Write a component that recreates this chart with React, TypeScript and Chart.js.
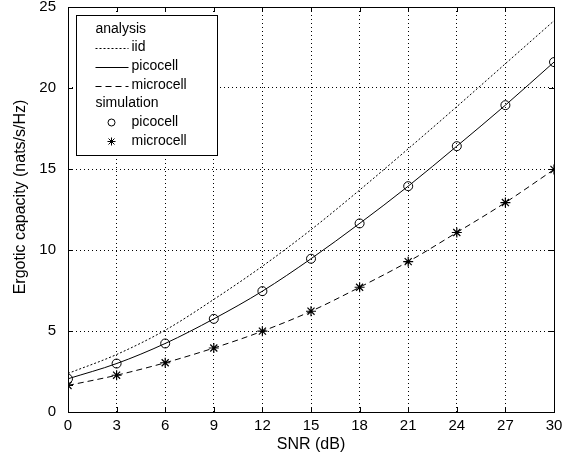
import React, { useEffect, useRef } from "react";
import { Chart, registerables } from "chart.js";

Chart.register(...registerables);

const snrDb = [0, 3, 6, 9, 12, 15, 18, 21, 24, 27, 30];
const iidAnalysis = [2.38, 3.55, 5.05, 6.95, 9.0, 11.25, 13.7, 16.25, 18.85, 21.5, 24.15];
const picoAnalysis = [2.05, 2.99, 4.23, 5.75, 7.46, 9.46, 11.64, 13.94, 16.41, 18.94, 21.6];
const microAnalysis = [1.64, 2.27, 3.04, 3.95, 4.99, 6.22, 7.7, 9.28, 11.08, 12.93, 14.97];
const picoSimulation = [2.05, 2.99, 4.23, 5.75, 7.46, 9.46, 11.64, 13.94, 16.41, 18.94, 21.6];
const microSimulation = [1.64, 2.27, 3.04, 3.95, 4.99, 6.22, 7.7, 9.28, 11.08, 12.93, 14.97];

const xTitle = "SNR (dB)";
const yTitle = "Ergotic capacity (nats/s/Hz)";
const FONT = "'Liberation Sans', Arial, sans-serif";

const toXY = (ys: number[]) => ys.map((y, i) => ({ x: snrDb[i], y }));

const framePlugin = {
  id: "frame",
  afterDraw(chart: any) {
    const { ctx, chartArea: a, scales } = chart;
    ctx.save();
    ctx.strokeStyle = "#000";
    ctx.lineWidth = 1;
    ctx.setLineDash([]);
    // inward ticks
    ctx.beginPath();
    scales.x.ticks.forEach((t: any) => {
      const px = Math.round(scales.x.getPixelForValue(t.value)) + 0.5;
      ctx.moveTo(px, a.bottom);
      ctx.lineTo(px, a.bottom - 5);
      ctx.moveTo(px, a.top);
      ctx.lineTo(px, a.top + 5);
    });
    scales.y.ticks.forEach((t: any) => {
      const py = Math.round(scales.y.getPixelForValue(t.value)) + 0.5;
      ctx.moveTo(a.left, py);
      ctx.lineTo(a.left + 5, py);
      ctx.moveTo(a.right, py);
      ctx.lineTo(a.right - 5, py);
    });
    ctx.stroke();
    ctx.strokeRect(Math.round(a.left) + 0.5, Math.round(a.top) + 0.5, Math.round(a.right - a.left), Math.round(a.bottom - a.top));

    // y axis title
    ctx.save();
    ctx.translate(21, 197);
    ctx.rotate(-Math.PI / 2);
    ctx.font = "16px " + FONT;
    ctx.fillStyle = "#000";
    ctx.textAlign = "center";
    ctx.textBaseline = "middle";
    ctx.fillText(yTitle, 0, 0);
    ctx.restore();

    // legend
    const bx = Math.round(a.left) + 8.5;
    const by = Math.round(a.top) + 8.5;
    const bw = 141;
    const bh = 140;
    ctx.fillStyle = "#fff";
    ctx.fillRect(bx, by, bw, bh);
    ctx.strokeRect(bx, by, bw, bh);
    ctx.font = "14px " + FONT;
    ctx.fillStyle = "#000";
    ctx.textBaseline = "middle";
    ctx.textAlign = "left";
    const lx0 = bx + 19;
    const lx1 = bx + 52;
    const tx = bx + 55;
    const rows = [
      { label: "analysis", kind: "head", y: 14 },
      { label: "iid", kind: "line", dash: [2, 2], y: 32 },
      { label: "picocell", kind: "line", dash: [], y: 51 },
      { label: "microcell", kind: "line", dash: [6, 4], y: 70 },
      { label: "simulation", kind: "head", y: 88 },
      { label: "picocell", kind: "circle", y: 107 },
      { label: "microcell", kind: "star", y: 126 },
    ];
    rows.forEach((r: any) => {
      const y = by + r.y;
      if (r.kind === "head") {
        ctx.fillText(r.label, lx0, y);
        return;
      }
      if (r.kind === "line") {
        ctx.setLineDash(r.dash);
        ctx.beginPath();
        ctx.moveTo(lx0, Math.round(y) + 0.5);
        ctx.lineTo(lx1, Math.round(y) + 0.5);
        ctx.stroke();
        ctx.setLineDash([]);
      } else if (r.kind === "circle") {
        ctx.beginPath();
        ctx.arc(bx + 35, y, 3.5, 0, Math.PI * 2);
        ctx.stroke();
      } else {
        const cx = bx + 35;
        const s = 4;
        ctx.beginPath();
        ctx.moveTo(cx - s, y);
        ctx.lineTo(cx + s, y);
        ctx.moveTo(cx, y - s);
        ctx.lineTo(cx, y + s);
        const d = s * 0.75;
        ctx.moveTo(cx - d, y - d);
        ctx.lineTo(cx + d, y + d);
        ctx.moveTo(cx - d, y + d);
        ctx.lineTo(cx + d, y - d);
        ctx.stroke();
      }
      ctx.fillText(r.label, tx, y);
    });
    ctx.restore();
  },
};

export default function App() {
  const ref = useRef<HTMLCanvasElement>(null);
  useEffect(() => {
    if (!ref.current) return;
    const line = (data: number[], dash: number[]) => ({
      data: toXY(data),
      borderColor: "#000",
      backgroundColor: "#000",
      borderWidth: 1,
      borderDash: dash,
      pointRadius: 0,
      showLine: true,
      cubicInterpolationMode: "monotone" as const,
    });
    const chart = new Chart(ref.current, {
      type: "scatter",
      data: {
        datasets: [
          { label: "iid", ...line(iidAnalysis, [2, 2]) },
          { label: "picocell", ...line(picoAnalysis, []) },
          { label: "microcell", ...line(microAnalysis, [6, 4]) },
          {
            label: "picocell sim",
            data: toXY(picoSimulation),
            showLine: false,
            pointStyle: "circle",
            pointRadius: 4.5,
            borderColor: "#000",
            backgroundColor: "rgba(0,0,0,0)",
            borderWidth: 1,
          },
          {
            label: "microcell sim",
            data: toXY(microSimulation),
            showLine: false,
            pointStyle: "star",
            pointRadius: 5,
            borderColor: "#000",
            backgroundColor: "#000",
            borderWidth: 1.2,
          },
        ],
      },
      options: {
        animation: false,
        responsive: false,
        devicePixelRatio: 1,
        layout: { padding: { top: 7, right: 25, left: 0, bottom: 0 } },
        plugins: { legend: { display: false }, tooltip: { enabled: false } },
        scales: {
          x: {
            type: "linear",
            min: 0,
            max: 30,
            afterFit: (s: any) => {
              s.height = 46;
              s.paddingLeft = 0;
              s.paddingRight = 0;
            },
            ticks: {
              stepSize: 3,
              color: "#000",
              padding: 5,
              font: { family: FONT, size: 15 },
            },
            grid: { color: "#000", lineWidth: 1, drawTicks: false },
            border: { display: false, dash: [1, 3] },
            title: {
              display: true,
              text: xTitle,
              color: "#000",
              font: { family: FONT, size: 16 },
              padding: { top: 0, bottom: 4 },
            },
          },
          y: {
            type: "linear",
            min: 0,
            max: 25,
            afterFit: (s: any) => {
              s.width = 68;
              s.paddingTop = 0;
              s.paddingBottom = 0;
            },
            ticks: {
              stepSize: 5,
              color: "#000",
              padding: 12,
              font: { family: FONT, size: 15 },
            },
            grid: { color: "#000", lineWidth: 1, drawTicks: false },
            border: { display: false, dash: [1, 3] },
            title: { display: false },
          },
        },
      },
      plugins: [framePlugin],
    });
    return () => chart.destroy();
  }, []);
  return (
    <div style={{ position: "fixed", left: 0, top: 0, width: 579, height: 458, background: "#fff" }}>
      <canvas ref={ref} width={579} height={458} style={{ width: 579, height: 458 }} />
    </div>
  );
}
